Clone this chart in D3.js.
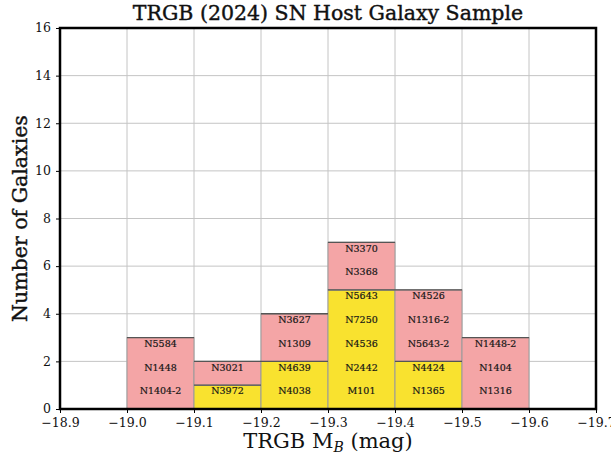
<!DOCTYPE html>
<html>
<head>
<meta charset="utf-8">
<script src="https://cdn.jsdelivr.net/npm/d3@7"></script>
<style>
  body { margin: 0; background: #fff; }
  text { font-family: "DejaVu Serif", "Liberation Serif", serif; fill: #111; }
</style>
</head>
<body>
<svg id="chart" width="611" height="461"></svg>
<script>
// bins of TRGB M_B (left edge, right edge)
const binEdges = [-19.0, -19.1, -19.2, -19.3, -19.4, -19.5, -19.6];
// galaxies per bin, bottom to top; yellow first, then pink
const yellowGals = [
  [],
  ["N3972"],
  ["N4038", "N4639"],
  ["M101", "N2442", "N4536", "N7250", "N5643"],
  ["N1365", "N4424"],
  []
];
const pinkGals = [
  ["N1404-2", "N1448", "N5584"],
  ["N3021"],
  ["N1309", "N3627"],
  ["N3368", "N3370"],
  ["N5643-2", "N1316-2", "N4526"],
  ["N1316", "N1404", "N1448-2"]
];
const xTicks = [-18.9, -19.0, -19.1, -19.2, -19.3, -19.4, -19.5, -19.6, -19.7];
const yTicks = [0, 2, 4, 6, 8, 10, 12, 14, 16];

const colors = { yellow: "#f9e22f", pink: "#f4a5a6" };

const margin = { left: 60, right: 15, top: 28, bottom: 52 };
const W = 611, H = 461;

const svg = d3.select("#chart");

const x = d3.scaleLinear().domain([-18.9, -19.7]).range([margin.left, W - margin.right]);
const y = d3.scaleLinear().domain([0, 16]).range([H - margin.bottom, margin.top]);

const fmt = d => (d < 0 ? "\u2212" : "") + Math.abs(d).toFixed(1);

// grid
const grid = svg.append("g");
grid.selectAll(".gx").data(xTicks).enter().append("line")
  .attr("x1", d => x(d)).attr("x2", d => x(d))
  .attr("y1", y(0)).attr("y2", y(16))
  .attr("stroke", "#c4c4c4").attr("stroke-width", 1);
grid.selectAll(".gy").data(yTicks).enter().append("line")
  .attr("x1", x(-18.9)).attr("x2", x(-19.7))
  .attr("y1", d => y(d)).attr("y2", d => y(d))
  .attr("stroke", "#c4c4c4").attr("stroke-width", 1);

// flatten the stacked segments
const segs = [];
binEdges.slice(0, -1).forEach((lo, i) => {
  const hi = binEdges[i + 1];
  const ny = yellowGals[i].length, np = pinkGals[i].length;
  if (ny) segs.push({ lo, hi, y0: 0, y1: ny, color: colors.yellow });
  if (np) segs.push({ lo, hi, y0: ny, y1: ny + np, color: colors.pink });
});
const labels = [];
binEdges.slice(0, -1).forEach((lo, i) => {
  const hi = binEdges[i + 1];
  yellowGals[i].concat(pinkGals[i]).forEach((name, k) => {
    labels.push({ name, xc: (lo + hi) / 2, k });
  });
});

const bars = svg.append("g");
bars.selectAll("rect").data(segs).enter().append("rect")
  .attr("x", d => x(d.lo))
  .attr("width", d => x(d.hi) - x(d.lo))
  .attr("y", d => y(d.y1))
  .attr("height", d => y(d.y0) - y(d.y1))
  .attr("fill", d => d.color)
  .attr("stroke", "#9a9a9a")
  .attr("stroke-width", 1);
bars.selectAll("line.top").data(segs).enter().append("line")
  .attr("x1", d => x(d.lo)).attr("x2", d => x(d.hi))
  .attr("y1", d => y(d.y1)).attr("y2", d => y(d.y1))
  .attr("stroke", "#555").attr("stroke-width", 1.3);

svg.append("g").selectAll("text").data(labels).enter().append("text")
  .attr("x", d => x(d.xc))
  .attr("y", d => y(d.k + 0.75))
  .attr("dy", "0.35em")
  .attr("text-anchor", "middle")
  .attr("font-size", 9.5)
  .attr("fill", "#222")
  .attr("stroke", "#222").attr("stroke-width", 0.2)
  .text(d => d.name);

// axes
const xAxis = d3.axisBottom(x).tickValues(xTicks).tickFormat(fmt).tickSize(4).tickPadding(5);
const yAxis = d3.axisLeft(y).tickValues(yTicks).tickFormat(d3.format("d")).tickSize(4).tickPadding(5);
const gx = svg.append("g").attr("transform", `translate(0,${y(0)})`).call(xAxis);
const gy = svg.append("g").attr("transform", `translate(${x(-18.9)},0)`).call(yAxis);
[gx, gy].forEach(g => {
  g.select(".domain").remove();
  g.selectAll(".tick line").attr("stroke", "#000").attr("stroke-width", 1);
  g.selectAll(".tick text").attr("font-size", 12.5).attr("fill", "#222");
});
gy.selectAll(".tick text").attr("dy", "0.3em");

// frame
svg.append("rect")
  .attr("x", x(-18.9)).attr("y", y(16))
  .attr("width", x(-19.7) - x(-18.9)).attr("height", y(0) - y(16))
  .attr("fill", "none").attr("stroke", "#000").attr("stroke-width", 2.5);

// titles
svg.append("text")
  .attr("x", (x(-18.9) + x(-19.7)) / 2).attr("y", 20)
  .attr("text-anchor", "middle").attr("font-size", 20.5)
  .attr("stroke", "#111").attr("stroke-width", 0.4)
  .text("TRGB (2024) SN Host Galaxy Sample");

const xl = svg.append("text")
  .attr("x", (x(-18.9) + x(-19.7)) / 2).attr("y", 448)
  .attr("text-anchor", "middle").attr("font-size", 21);
xl.append("tspan").text("TRGB M");
xl.append("tspan").attr("font-size", 14).attr("font-style", "italic").attr("dy", 4).text("B");
xl.append("tspan").attr("dy", -4).text(" (mag)");

svg.append("text")
  .attr("transform", `translate(27,${(y(0) + y(16)) / 2}) rotate(-90)`)
  .attr("text-anchor", "middle").attr("font-size", 20.5)
  .attr("stroke", "#111").attr("stroke-width", 0.4)
  .text("Number of Galaxies");
</script>
</body>
</html>
